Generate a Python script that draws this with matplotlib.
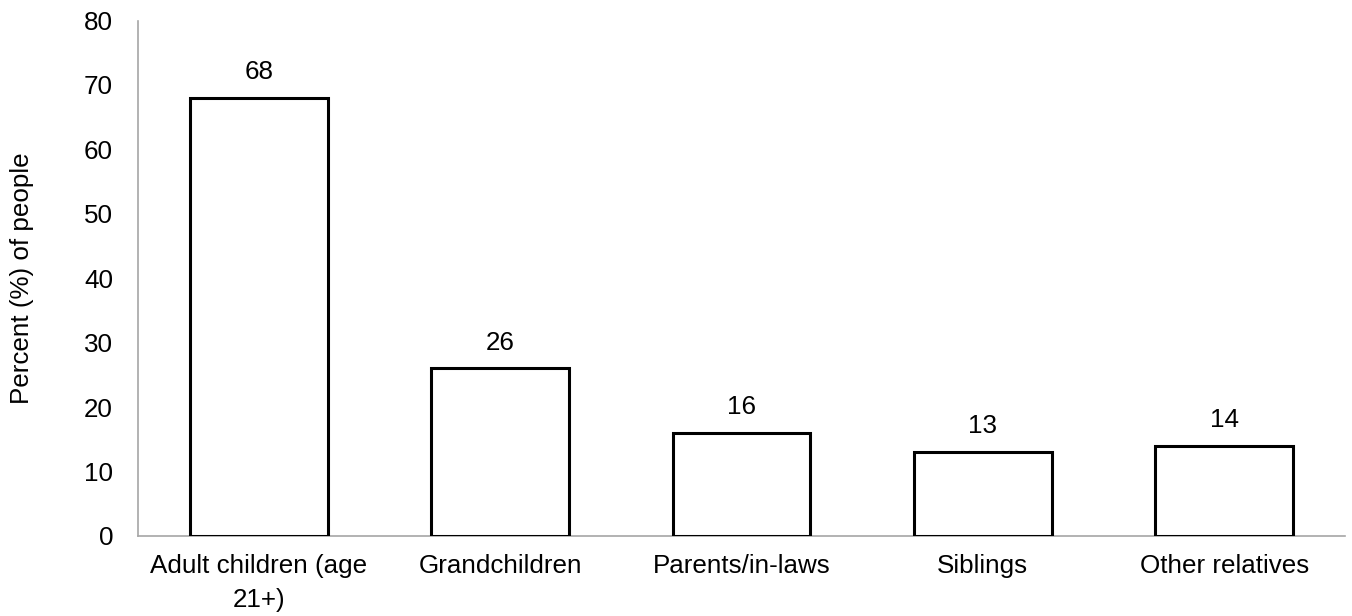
import numpy as np
import matplotlib.pyplot as plt

plt.rcParams['font.family'] = ['Liberation Sans', 'DejaVu Sans']

categories = ['Adult children (age\n21+)', 'Grandchildren', 'Parents/in-laws',
              'Siblings', 'Other relatives']
values = [68, 26, 16, 13, 14]

fig = plt.figure(figsize=(13.52, 6.16), dpi=100)
ax = fig.add_axes([0.1021, 0.1299, 0.8927, 0.8368])

x = np.arange(len(categories))
bars = ax.bar(x, values, width=0.57, color='white', edgecolor='black', linewidth=2.2, zorder=3)

# value labels above each bar
for b, v in zip(bars, values):
    ax.annotate(str(v), (b.get_x() + b.get_width() / 2, v), xytext=(0, 10),
                textcoords='offset points', ha='center', va='bottom', fontsize=18.7)

ax.set_xlim(-0.5, len(categories) - 0.5)
ax.set_ylim(0, 80)
ax.set_yticks(range(0, 81, 10))
ax.set_xticks(x)
ax.set_xticklabels(categories, fontsize=18.7, linespacing=1.5)
ax.tick_params(axis='y', length=0, pad=18, labelsize=18.7)
ax.tick_params(axis='x', length=0, pad=13)

for s in ['top', 'right']:
    ax.spines[s].set_visible(False)
for s in ['left', 'bottom']:
    ax.spines[s].set_color('#a6a6a6')
    ax.spines[s].set_linewidth(1.2)

ax.set_ylabel('Percent (%) of people', fontsize=18.7, labelpad=36)

fig.savefig('out.png', dpi=100)
